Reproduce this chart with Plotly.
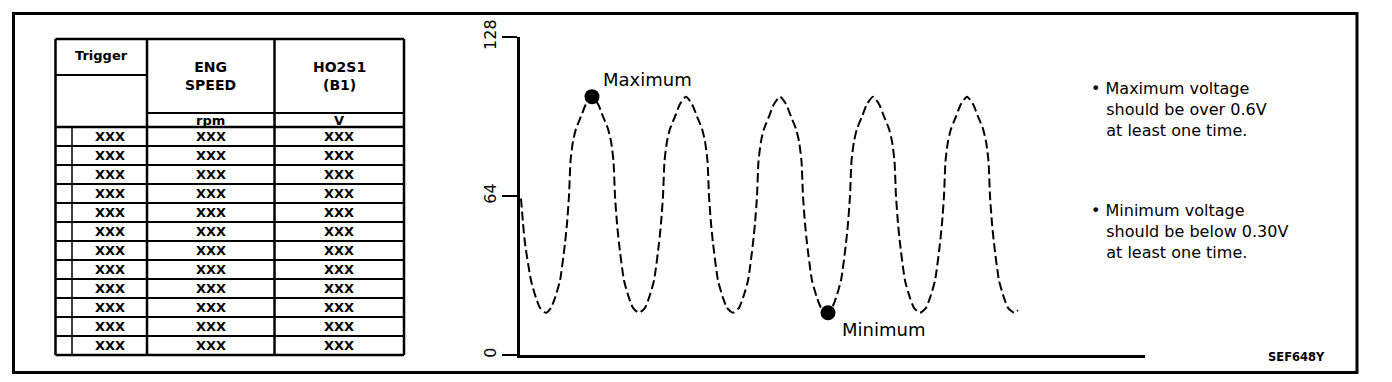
import plotly.graph_objects as go

W, H = 1392, 382

# ---------------- data ----------------
time_x = [1, 3, 5, 11, 16, 20, 26, 31, 35, 40, 45, 47, 49, 50.5, 53, 56, 61, 66, 72, 78, 83, 88, 91, 93.5, 95, 97, 99, 104, 109, 113, 119,
          125, 129, 134, 139, 141, 143, 144.5, 147, 150, 155, 160, 166, 172, 177, 182, 185, 187.5, 189, 191, 193, 198, 203, 207, 213,
          219, 223, 228, 233, 235, 237, 238.5, 241, 244, 249, 254, 260, 266, 271, 276, 279, 281.5, 283, 285, 287, 292, 297, 301, 307,
          312, 316, 321, 326, 328, 330, 331.5, 334, 337, 342, 347, 353, 359, 364, 369, 372, 374.5, 376, 378, 380, 385, 390, 394, 400,
          406, 410, 415, 420, 422, 424, 425.5, 428, 431, 436, 441, 447, 453, 458, 463, 466, 468.5, 470, 472, 474, 479, 484, 488, 494, 498]
voltage = [63, 53, 45, 30, 23, 19, 17, 19, 23, 30, 45, 53, 64, 78, 86, 91, 96, 101, 104, 101, 96, 91, 86, 78, 64, 53, 45, 30, 23, 19, 17,
           19, 23, 30, 45, 53, 64, 78, 86, 91, 96, 101, 104, 101, 96, 91, 86, 78, 64, 53, 45, 30, 23, 19, 17,
           19, 23, 30, 45, 53, 64, 78, 86, 91, 96, 101, 104, 101, 96, 91, 86, 78, 64, 53, 45, 30, 23, 19, 17,
           19, 23, 30, 45, 53, 64, 78, 86, 91, 96, 101, 104, 101, 96, 91, 86, 78, 64, 53, 45, 30, 23, 19, 17,
           19, 23, 30, 45, 53, 64, 78, 86, 91, 96, 101, 104, 101, 96, 91, 86, 78, 64, 53, 45, 30, 23, 19, 17, 18]

marker_labels = ["Maximum", "Minimum"]
marker_x = [72, 308]
marker_y = [104, 17]

y_ticks = [0, 64, 128]
y_ticktext = ["0", "64", "128"]

table_headers = ["Trigger", "ENG<br>SPEED", "HO2S1<br>(B1)"]
table_units = ["", "rpm", "V"]
table_rows = [["XXX", "XXX", "XXX"] for _ in range(12)]

notes_max = ["\u2022 Maximum voltage", "should be over 0.6V", "at least one time."]
notes_min = ["\u2022 Minimum voltage", "should be below 0.30V", "at least one time."]
figure_code = "SEF648Y"

# ---------------- helpers (pixel -> paper) ----------------
def PX(x):
    return x / W

def PY(y):
    return 1 - y / H

FONT = "DejaVu Sans, Liberation Sans, Arial, sans-serif"

fig = go.Figure()
fig.add_trace(go.Scatter(
    x=time_x, y=voltage, mode="lines",
    line=dict(color="black", width=2, dash="9px,4px", shape="spline", smoothing=0.6),
    hoverinfo="skip", showlegend=False))
fig.add_trace(go.Scatter(
    x=marker_x, y=marker_y, mode="markers",
    marker=dict(color="black", size=15),
    text=marker_labels, hoverinfo="text", showlegend=False))

shapes = []
annotations = []

def hline(x0, x1, y, w=2):
    shapes.append(dict(type="line", xref="paper", yref="paper",
                       x0=PX(x0), x1=PX(x1), y0=PY(y), y1=PY(y),
                       line=dict(color="black", width=w)))

def vline(x, y0, y1, w=2):
    shapes.append(dict(type="line", xref="paper", yref="paper",
                       x0=PX(x), x1=PX(x), y0=PY(y0), y1=PY(y1),
                       line=dict(color="black", width=w)))

def text(x, y, s, size=13, bold=False, xanchor="center", align="center"):
    annotations.append(dict(xref="paper", yref="paper", x=PX(x), y=PY(y),
                            text=("<b>%s</b>" % s) if bold else s, showarrow=False,
                            xanchor=xanchor, yanchor="middle", align=align,
                            font=dict(family=FONT, size=size, color="black")))

# outer frame
shapes.append(dict(type="rect", xref="paper", yref="paper",
                   x0=PX(13.5), x1=PX(1357), y0=PY(13.5), y1=PY(372.5),
                   line=dict(color="black", width=3)))

# table geometry
tx0, tx1 = 55.5, 404
c_trig_in, c1, c2 = 72, 147, 274.5
ty0, y_trig, y_units, y_data, ty1 = 39, 75, 113, 127, 355
n = len(table_rows)
rh = (ty1 - y_data) / n

hline(tx0, tx1, ty0, 2.5)
hline(tx0, tx1, ty1, 2.5)
vline(tx0, ty0, ty1, 2.5)
vline(tx1, ty0, ty1, 2.5)
vline(c1, ty0, ty1, 2.5)
vline(c2, ty0, ty1, 2.5)
hline(tx0, c1, y_trig, 2)
hline(c1, tx1, y_units, 2)
hline(tx0, tx1, y_data, 2.5)
vline(c_trig_in, y_data, ty1, 1.5)
for i in range(1, n):
    hline(tx0, tx1, y_data + i * rh, 2)

col_centers = [(c_trig_in + c1) / 2, (c1 + c2) / 2, (c2 + tx1) / 2]
text((tx0 + c1) / 2, 56, table_headers[0], 13, True)
text(col_centers[1], 76, table_headers[1], 14, True)
text(col_centers[2], 76, table_headers[2], 14, True)
text(col_centers[1], 120, table_units[1], 13, True)
text(col_centers[2], 120, table_units[2], 13, True)
for i, row in enumerate(table_rows):
    yc = y_data + (i + 0.5) * rh
    for j, v in enumerate(row):
        text(col_centers[j], yc, v, 13, True)

# chart labels
text(601, 79, marker_labels[0], 18, xanchor="left")
text(840, 329, marker_labels[1], 18, xanchor="left")

INDENT = "\u00a0\u00a0\u00a0"
def block(lines):
    return "<br>".join([lines[0]] + [INDENT + s for s in lines[1:]])

text(1089, 109, block(notes_max), 16, xanchor="left", align="left")
text(1089, 231, block(notes_min), 16, xanchor="left", align="left")

text(1296, 357, figure_code, 11.5, True)

fig.update_layout(
    width=W, height=H,
    margin=dict(l=0, r=0, t=0, b=0, autoexpand=False),
    paper_bgcolor="white", plot_bgcolor="white",
    shapes=shapes, annotations=annotations,
    xaxis=dict(domain=[520 / W, 1145 / W], range=[0, 625], showline=True,
               linecolor="black", linewidth=3, showticklabels=False, ticks="",
               showgrid=False, zeroline=False, fixedrange=True, automargin=False),
    yaxis=dict(domain=[(H - 355) / H, (H - 37) / H], range=[0, 128], showline=True,
               linecolor="black", linewidth=3, tickvals=y_ticks, ticktext=y_ticktext,
               ticks="outside", ticklen=15, tickwidth=1.5, tickcolor="black",
               tickangle=-90, tickfont=dict(family=FONT, size=16, color="black"),
               showgrid=False, zeroline=False, fixedrange=True, automargin=False),
    showlegend=False,
)

fig.write_html("out.html")
